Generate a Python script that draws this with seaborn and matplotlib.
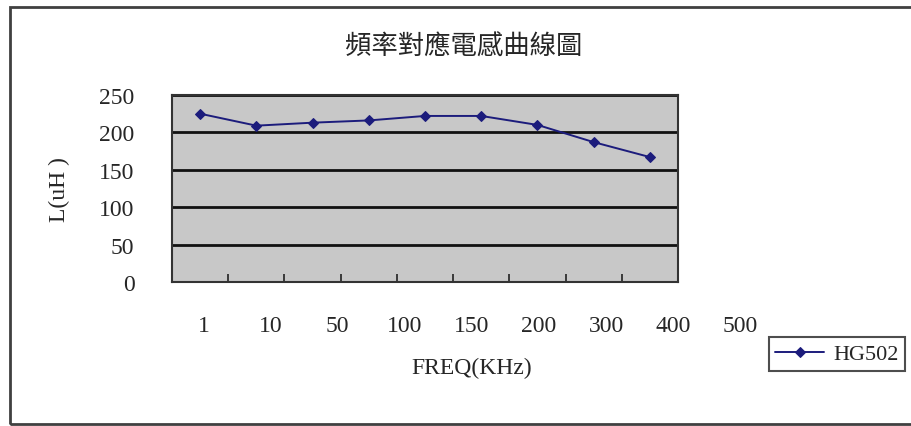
import matplotlib
matplotlib.use("Agg")
import matplotlib.pyplot as plt
import seaborn as sns
import pandas as pd
from matplotlib.patches import Rectangle

freq_labels = ["1", "10", "50", "100", "150", "200", "300", "400", "500"]
inductance = [225, 209, 213, 216, 222, 222, 210, 187, 167]
y_ticks = [0, 50, 100, 150, 200, 250]
series_name = "HG502"
title_text = "頻率對應電感曲線圖"

sns.set_theme(style="white")
plt.rcParams['font.family'] = ['Liberation Serif', 'DejaVu Serif']

W, H = 911, 427
fig = plt.figure(figsize=(W / 100, H / 100), dpi=100)

def fbox(x0, y0, x1, y1):
    return [x0 / W, 1 - y1 / H, (x1 - x0) / W, (y1 - y0) / H]

# outer chart frame
fig.patches.append(Rectangle((10 / W, 1 - 425 / H), 905 / W, 417 / H,
                             transform=fig.transFigure, fill=False,
                             edgecolor="#404040", linewidth=2))

# axis carrying the category labels (wider, as in the reference)
lab_ax = fig.add_axes(fbox(170, 96, 774, 283))
lab_ax.set_xlim(-0.5, len(freq_labels) - 0.5)
lab_ax.set_xticks(range(len(freq_labels)))
lab_ax.set_xticklabels(freq_labels, fontsize=17)
lab_ax.tick_params(axis="x", length=0, pad=24)
lab_ax.set_yticks([])
lab_ax.set_xlabel("FREQ(KHz)", fontsize=17, labelpad=15)
for s in lab_ax.spines.values():
    s.set_visible(False)
lab_ax.patch.set_visible(False)

# main plot
ax = fig.add_axes(fbox(172, 96, 678, 283))
ax.set_facecolor("#c8c8c8")
df = pd.DataFrame({"freq": freq_labels, "L": inductance, "s": series_name})
sns.lineplot(data=df, x="freq", y="L", hue="s", palette=["#1c1c7c"],
             marker="D", markersize=5.5, linewidth=1.4, markeredgecolor="#1c1c7c",
             ax=ax, sort=False)
ax.set_xlim(-0.5, len(freq_labels) - 0.5)
ax.set_ylim(0, 250)
ax.set_yticks(y_ticks)
ax.set_yticklabels([str(v) for v in y_ticks], fontsize=17)
ax.yaxis.grid(True, color="#111111", linewidth=2)
ax.set_axisbelow(True)
ax.set_xticks([i + 0.5 for i in range(len(freq_labels) - 1)])
ax.set_xticklabels([])
ax.tick_params(axis="x", direction="in", length=6, width=1.2, colors="#222222", bottom=True)
ax.tick_params(axis="y", length=0, pad=27)
ax.set_xlabel("")
ax.set_ylabel("L(uH )", fontsize=17, labelpad=0)
ax.yaxis.set_label_coords((70 - 172) / 506, 0.5)
for s in ax.spines.values():
    s.set_color("#333333")
    s.set_linewidth(1.5)

handles, labels = ax.get_legend_handles_labels()
ax.legend(handles, labels, loc="center", bbox_to_anchor=(837 / W, 1 - 355 / H),
          bbox_transform=fig.transFigure, frameon=True, fancybox=False,
          edgecolor="#222222", fontsize=16, handlelength=2.2,
          borderpad=0.3, handletextpad=0.4, borderaxespad=0)
ax.get_legend().get_frame().set_linewidth(1.5)

fig.text(464 / W, 1 - 47 / H, title_text, ha="center", va="center",
         fontsize=19, family=["Noto Sans CJK TC", "DejaVu Sans"])

fig.savefig("out.png", dpi=100)
